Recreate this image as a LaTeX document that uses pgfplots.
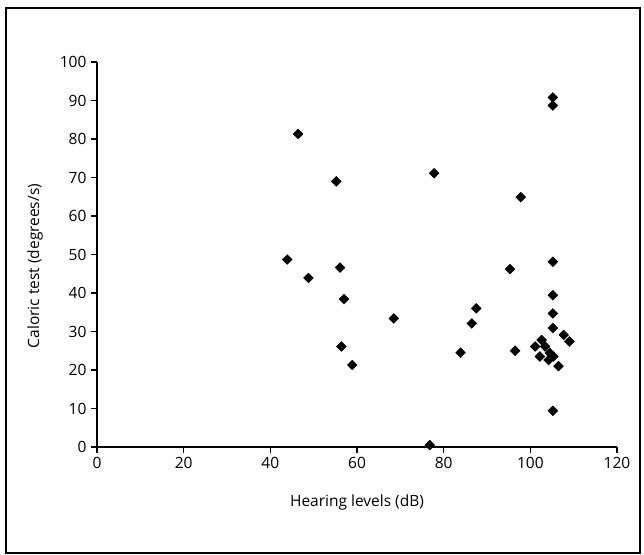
\documentclass[border=0pt]{standalone}
\usepackage{pgfplots}
\pgfplotsset{compat=1.18}
\usepackage{fontspec}
\setmainfont{Open Sans}
\begin{document}
\begin{tikzpicture}[x=1pt,y=1pt]
\useasboundingbox (-97,-107) rectangle (547,447);
\draw[line width=1.6pt] (-91,-106) rectangle (543,439);
\begin{axis}[
  at={(0,0)}, anchor=origin,
  width=520pt, height=385pt, scale only axis,
  xmin=0, xmax=120, ymin=0, ymax=100,
  axis lines=left,
  axis line style={-, line width=1.4pt},
  every tick/.style={black, line width=1.2pt},
  tick align=outside,
  major tick length=6pt,
  xtick={0,20,...,120}, ytick={0,10,...,100},
  minor tick num=0,
  font=\fontsize{15.5}{18}\selectfont,
  /pgf/number format/assume math mode=true,
  xticklabel style={yshift=-1pt},
  yticklabel style={xshift=-1pt},
  xlabel={Hearing levels (dB)},
  ylabel={Caloric test (degrees/s)},
  xlabel style={at={(axis description cs:0.5,-0.143)}, anchor=center},
  ylabel style={at={(axis description cs:-0.119,0.47)}, anchor=center, rotate=0},
  clip=false,
]
\addplot[only marks, mark=square*, mark size=3.5pt, mark options={rotate=45, fill=black, draw=black}] coordinates {
(55.2,69.0) (77.8,71.1) (43.9,48.7) (56.1,46.6) (48.8,43.9) (57.0,38.4)
(68.5,33.4) (87.5,36.0) (86.5,32.1) (83.9,24.5) (56.4,26.1) (58.9,21.3)
(76.8,0.5) (46.4,81.3)
(105.2,90.8) (105.2,88.7) (97.8,64.9)
(95.3,46.2) (105.2,48.1) (105.2,39.4) (105.2,34.7) (105.2,30.9)
(107.7,29.1) (109.0,27.4) (96.5,25.0)
(101.1,26.1) (102.6,27.8) (103.4,26.1) (102.2,23.5) (104.5,24.4)
(105.3,23.5) (104.2,22.6) (106.5,21.0) (105.2,9.4)
};
\end{axis}
\end{tikzpicture}
\end{document}
